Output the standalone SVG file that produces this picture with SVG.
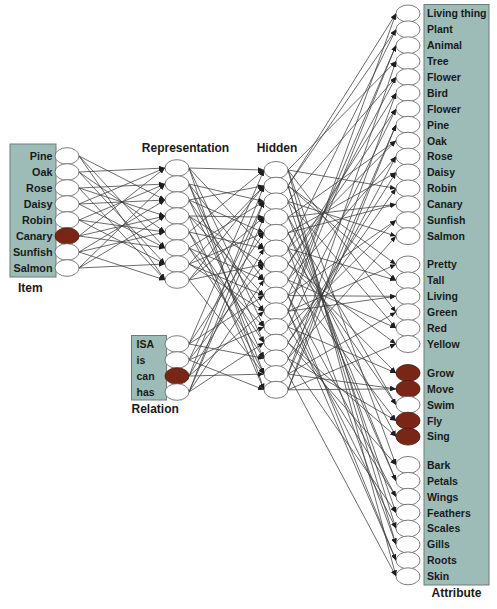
<svg xmlns="http://www.w3.org/2000/svg" width="497" height="609" viewBox="0 0 497 609">
<style>
.box{fill:#9dbcb8;stroke:#6e7c7a;stroke-width:1}
.n{fill:#fff;stroke:#5a5a5a;stroke-width:0.8}
.on{fill:#7a2616;stroke:#4a1a10;stroke-width:0.8}
.lb{font-family:"Liberation Sans",Arial,sans-serif;font-weight:bold;font-size:10.5px;fill:#1a1a1a}
.il{font-family:"Liberation Sans",Arial,sans-serif;font-weight:bold;font-size:10.8px;fill:#1a1a1a;text-anchor:end}
.tt{font-family:"Liberation Sans",Arial,sans-serif;font-weight:bold;font-size:12px;fill:#1a1a1a}
#connectors line{stroke:#3a3a3a;stroke-width:0.75;marker-end:url(#ah)}
</style>
<defs>
<marker id="ah" markerUnits="userSpaceOnUse" markerWidth="6" markerHeight="5" refX="6" refY="2.5" orient="auto">
<path d="M0,0 L6,2.5 L0,5 z" fill="#1e1e1e"/>
</marker>
</defs>
<rect width="497" height="609" fill="#fff"/>
<g id="panels">
<rect class="box" x="10" y="144" width="46" height="133"/>
<rect class="box" x="131.5" y="335.5" width="35" height="64.5"/>
<rect class="box" x="424" y="4.5" width="65" height="580.5"/>
</g>
<g id="titles">
<text class="tt" x="18" y="292">Item</text>
<text class="tt" x="185.5" y="152" text-anchor="middle">Representation</text>
<text class="tt" x="277" y="152" text-anchor="middle">Hidden</text>
<text class="tt" x="131.5" y="413">Relation</text>
<text class="tt" x="456.5" y="597" text-anchor="middle">Attribute</text>
</g>
<g id="connectors">
<line x1="79" y1="156" x2="165" y2="200"/><line x1="79" y1="156" x2="165" y2="248"/><line x1="79" y1="156" x2="165" y2="280"/>
<line x1="79" y1="172" x2="165" y2="168"/><line x1="79" y1="172" x2="165" y2="232"/><line x1="79" y1="172" x2="165" y2="264"/>
<line x1="79" y1="188" x2="165" y2="184"/><line x1="79" y1="188" x2="165" y2="216"/><line x1="79" y1="188" x2="165" y2="280"/>
<line x1="79" y1="204" x2="165" y2="168"/><line x1="79" y1="204" x2="165" y2="200"/><line x1="79" y1="204" x2="165" y2="248"/>
<line x1="79" y1="220" x2="165" y2="184"/><line x1="79" y1="220" x2="165" y2="232"/><line x1="79" y1="220" x2="165" y2="264"/>
<line x1="79" y1="236" x2="165" y2="168"/><line x1="79" y1="236" x2="165" y2="216"/><line x1="79" y1="236" x2="165" y2="248"/>
<line x1="79" y1="252" x2="165" y2="200"/><line x1="79" y1="252" x2="165" y2="232"/><line x1="79" y1="252" x2="165" y2="280"/>
<line x1="79" y1="268" x2="165" y2="184"/><line x1="79" y1="268" x2="165" y2="216"/><line x1="79" y1="268" x2="165" y2="264"/>

<line x1="189" y1="168" x2="264" y2="170"/><line x1="189" y1="168" x2="264" y2="248.5"/><line x1="189" y1="168" x2="264" y2="327"/><line x1="189" y1="168" x2="264" y2="389.8"/>
<line x1="189" y1="184" x2="264" y2="201.4"/><line x1="189" y1="184" x2="264" y2="279.9"/><line x1="189" y1="184" x2="264" y2="342.7"/><line x1="189" y1="184" x2="264" y2="374.1"/>
<line x1="189" y1="200" x2="264" y2="185.7"/><line x1="189" y1="200" x2="264" y2="232.8"/><line x1="189" y1="200" x2="264" y2="311.3"/><line x1="189" y1="200" x2="264" y2="358.4"/>
<line x1="189" y1="216" x2="264" y2="217.1"/><line x1="189" y1="216" x2="264" y2="264.2"/><line x1="189" y1="216" x2="264" y2="295.6"/><line x1="189" y1="216" x2="264" y2="389.8"/>
<line x1="189" y1="232" x2="264" y2="170"/><line x1="189" y1="232" x2="264" y2="248.5"/><line x1="189" y1="232" x2="264" y2="342.7"/><line x1="189" y1="232" x2="264" y2="374.1"/>
<line x1="189" y1="248" x2="264" y2="201.4"/><line x1="189" y1="248" x2="264" y2="279.9"/><line x1="189" y1="248" x2="264" y2="327"/><line x1="189" y1="248" x2="264" y2="358.4"/>
<line x1="189" y1="264" x2="264" y2="185.7"/><line x1="189" y1="264" x2="264" y2="232.8"/><line x1="189" y1="264" x2="264" y2="295.6"/><line x1="189" y1="264" x2="264" y2="311.3"/>
<line x1="189" y1="280" x2="264" y2="217.1"/><line x1="189" y1="280" x2="264" y2="264.2"/><line x1="189" y1="280" x2="264" y2="374.1"/><line x1="189" y1="280" x2="264" y2="185.7"/>

<line x1="189" y1="344" x2="264" y2="170"/><line x1="189" y1="344" x2="264" y2="232.8"/><line x1="189" y1="344" x2="264" y2="295.6"/><line x1="189" y1="344" x2="264" y2="358.4"/>
<line x1="189" y1="360" x2="264" y2="201.4"/><line x1="189" y1="360" x2="264" y2="264.2"/><line x1="189" y1="360" x2="264" y2="327"/><line x1="189" y1="360" x2="264" y2="389.8"/>
<line x1="189" y1="376" x2="264" y2="185.7"/><line x1="189" y1="376" x2="264" y2="248.5"/><line x1="189" y1="376" x2="264" y2="311.3"/><line x1="189" y1="376" x2="264" y2="374.1"/>
<line x1="189" y1="392" x2="264" y2="217.1"/><line x1="189" y1="392" x2="264" y2="279.9"/><line x1="189" y1="392" x2="264" y2="342.7"/><line x1="189" y1="392" x2="264" y2="201.4"/>

<line x1="288" y1="185.7" x2="396" y2="13.5"/><line x1="288" y1="311.3" x2="396" y2="13.5"/>
<line x1="288" y1="248.5" x2="396" y2="29.4"/><line x1="288" y1="185.7" x2="396" y2="29.4"/>
<line x1="288" y1="311.3" x2="396" y2="45.3"/><line x1="288" y1="295.6" x2="396" y2="45.3"/>
<line x1="288" y1="374.1" x2="396" y2="61.2"/><line x1="288" y1="170" x2="396" y2="61.2"/>
<line x1="288" y1="201.4" x2="396" y2="77.1"/><line x1="288" y1="279.9" x2="396" y2="77.1"/>
<line x1="288" y1="264.2" x2="396" y2="93"/><line x1="288" y1="389.8" x2="396" y2="93"/>
<line x1="288" y1="327" x2="396" y2="108.9"/><line x1="288" y1="264.2" x2="396" y2="108.9"/>
<line x1="288" y1="389.8" x2="396" y2="124.8"/><line x1="288" y1="374.1" x2="396" y2="124.8"/>
<line x1="288" y1="217.1" x2="396" y2="140.7"/><line x1="288" y1="248.5" x2="396" y2="140.7"/>
<line x1="288" y1="279.9" x2="396" y2="156.6"/><line x1="288" y1="358.4" x2="396" y2="156.6"/>
<line x1="288" y1="342.7" x2="396" y2="172.5"/><line x1="288" y1="232.8" x2="396" y2="172.5"/>
<line x1="288" y1="170" x2="396" y2="188.4"/><line x1="288" y1="342.7" x2="396" y2="188.4"/>
<line x1="288" y1="232.8" x2="396" y2="204.3"/><line x1="288" y1="217.1" x2="396" y2="204.3"/>
<line x1="288" y1="295.6" x2="396" y2="220.2"/><line x1="288" y1="327" x2="396" y2="220.2"/>
<line x1="288" y1="358.4" x2="396" y2="236.1"/><line x1="288" y1="201.4" x2="396" y2="236.1"/>
<line x1="288" y1="185.7" x2="396" y2="264.5"/><line x1="288" y1="311.3" x2="396" y2="264.5"/>
<line x1="288" y1="248.5" x2="396" y2="280.4"/><line x1="288" y1="185.7" x2="396" y2="280.4"/>
<line x1="288" y1="311.3" x2="396" y2="296.3"/><line x1="288" y1="295.6" x2="396" y2="296.3"/>
<line x1="288" y1="374.1" x2="396" y2="312.2"/><line x1="288" y1="170" x2="396" y2="312.2"/>
<line x1="288" y1="201.4" x2="396" y2="328.1"/><line x1="288" y1="279.9" x2="396" y2="328.1"/>
<line x1="288" y1="264.2" x2="396" y2="344"/><line x1="288" y1="389.8" x2="396" y2="344"/>
<line x1="288" y1="327" x2="396" y2="373"/><line x1="288" y1="264.2" x2="396" y2="373"/>
<line x1="288" y1="389.8" x2="396" y2="388.9"/><line x1="288" y1="374.1" x2="396" y2="388.9"/>
<line x1="288" y1="217.1" x2="396" y2="404.8"/><line x1="288" y1="248.5" x2="396" y2="404.8"/>
<line x1="288" y1="279.9" x2="396" y2="420.7"/><line x1="288" y1="358.4" x2="396" y2="420.7"/>
<line x1="288" y1="342.7" x2="396" y2="436.6"/><line x1="288" y1="232.8" x2="396" y2="436.6"/>
<line x1="288" y1="170" x2="396" y2="465"/><line x1="288" y1="342.7" x2="396" y2="465"/>
<line x1="288" y1="232.8" x2="396" y2="480.9"/><line x1="288" y1="217.1" x2="396" y2="480.9"/>
<line x1="288" y1="295.6" x2="396" y2="496.8"/><line x1="288" y1="327" x2="396" y2="496.8"/>
<line x1="288" y1="358.4" x2="396" y2="512.7"/><line x1="288" y1="201.4" x2="396" y2="512.7"/>
<line x1="288" y1="185.7" x2="396" y2="528.6"/><line x1="288" y1="311.3" x2="396" y2="528.6"/>
<line x1="288" y1="248.5" x2="396" y2="544.5"/><line x1="288" y1="185.7" x2="396" y2="544.5"/>
<line x1="288" y1="311.3" x2="396" y2="560.4"/><line x1="288" y1="295.6" x2="396" y2="560.4"/>
<line x1="288" y1="374.1" x2="396" y2="576.3"/><line x1="288" y1="170" x2="396" y2="576.3"/>
</g>
<g id="item-nodes">
<g id="item-pine"><ellipse class="n" cx="67" cy="156" rx="12" ry="8.3"/><text class="il" x="52.5" y="160">Pine</text></g>
<g id="item-oak"><ellipse class="n" cx="67" cy="172" rx="12" ry="8.3"/><text class="il" x="52.5" y="176">Oak</text></g>
<g id="item-rose"><ellipse class="n" cx="67" cy="188" rx="12" ry="8.3"/><text class="il" x="52.5" y="192">Rose</text></g>
<g id="item-daisy"><ellipse class="n" cx="67" cy="204" rx="12" ry="8.3"/><text class="il" x="52.5" y="208">Daisy</text></g>
<g id="item-robin"><ellipse class="n" cx="67" cy="220" rx="12" ry="8.3"/><text class="il" x="52.5" y="224">Robin</text></g>
<g id="item-canary"><ellipse class="on" cx="67" cy="236" rx="12" ry="8.3"/><text class="il" x="52.5" y="240">Canary</text></g>
<g id="item-sunfish"><ellipse class="n" cx="67" cy="252" rx="12" ry="8.3"/><text class="il" x="52.5" y="256">Sunfish</text></g>
<g id="item-salmon"><ellipse class="n" cx="67" cy="268" rx="12" ry="8.3"/><text class="il" x="52.5" y="272">Salmon</text></g>
</g>
<g id="representation-nodes">
<g id="rep-0"><ellipse class="n" cx="177" cy="168" rx="12" ry="8.3"/></g>
<g id="rep-1"><ellipse class="n" cx="177" cy="184" rx="12" ry="8.3"/></g>
<g id="rep-2"><ellipse class="n" cx="177" cy="200" rx="12" ry="8.3"/></g>
<g id="rep-3"><ellipse class="n" cx="177" cy="216" rx="12" ry="8.3"/></g>
<g id="rep-4"><ellipse class="n" cx="177" cy="232" rx="12" ry="8.3"/></g>
<g id="rep-5"><ellipse class="n" cx="177" cy="248" rx="12" ry="8.3"/></g>
<g id="rep-6"><ellipse class="n" cx="177" cy="264" rx="12" ry="8.3"/></g>
<g id="rep-7"><ellipse class="n" cx="177" cy="280" rx="12" ry="8.3"/></g>
</g>
<g id="relation-nodes">
<g id="rel-isa"><ellipse class="n" cx="177" cy="344" rx="12" ry="8.3"/><text class="lb" x="136.5" y="348">ISA</text></g>
<g id="rel-is"><ellipse class="n" cx="177" cy="360" rx="12" ry="8.3"/><text class="lb" x="136.5" y="364">is</text></g>
<g id="rel-can"><ellipse class="on" cx="177" cy="376" rx="12" ry="8.3"/><text class="lb" x="136.5" y="380">can</text></g>
<g id="rel-has"><ellipse class="n" cx="177" cy="392" rx="12" ry="8.3"/><text class="lb" x="136.5" y="396">has</text></g>
</g>
<g id="hidden-nodes">
<g id="hid-0"><ellipse class="n" cx="276" cy="170" rx="12" ry="8.5"/></g>
<g id="hid-1"><ellipse class="n" cx="276" cy="185.7" rx="12" ry="8.5"/></g>
<g id="hid-2"><ellipse class="n" cx="276" cy="201.4" rx="12" ry="8.5"/></g>
<g id="hid-3"><ellipse class="n" cx="276" cy="217.1" rx="12" ry="8.5"/></g>
<g id="hid-4"><ellipse class="n" cx="276" cy="232.8" rx="12" ry="8.5"/></g>
<g id="hid-5"><ellipse class="n" cx="276" cy="248.5" rx="12" ry="8.5"/></g>
<g id="hid-6"><ellipse class="n" cx="276" cy="264.2" rx="12" ry="8.5"/></g>
<g id="hid-7"><ellipse class="n" cx="276" cy="279.9" rx="12" ry="8.5"/></g>
<g id="hid-8"><ellipse class="n" cx="276" cy="295.6" rx="12" ry="8.5"/></g>
<g id="hid-9"><ellipse class="n" cx="276" cy="311.3" rx="12" ry="8.5"/></g>
<g id="hid-10"><ellipse class="n" cx="276" cy="327" rx="12" ry="8.5"/></g>
<g id="hid-11"><ellipse class="n" cx="276" cy="342.7" rx="12" ry="8.5"/></g>
<g id="hid-12"><ellipse class="n" cx="276" cy="358.4" rx="12" ry="8.5"/></g>
<g id="hid-13"><ellipse class="n" cx="276" cy="374.1" rx="12" ry="8.5"/></g>
<g id="hid-14"><ellipse class="n" cx="276" cy="389.8" rx="12" ry="8.5"/></g>
</g>
<g id="attribute-nodes">
<g id="att-living-thing"><ellipse class="n" cx="408" cy="13.5" rx="12" ry="8.5"/><text class="lb" x="427" y="17.3">Living thing</text></g>
<g id="att-plant"><ellipse class="n" cx="408" cy="29.4" rx="12" ry="8.5"/><text class="lb" x="427" y="33.2">Plant</text></g>
<g id="att-animal"><ellipse class="n" cx="408" cy="45.3" rx="12" ry="8.5"/><text class="lb" x="427" y="49.1">Animal</text></g>
<g id="att-tree"><ellipse class="n" cx="408" cy="61.2" rx="12" ry="8.5"/><text class="lb" x="427" y="65">Tree</text></g>
<g id="att-flower1"><ellipse class="n" cx="408" cy="77.1" rx="12" ry="8.5"/><text class="lb" x="427" y="80.9">Flower</text></g>
<g id="att-bird"><ellipse class="n" cx="408" cy="93" rx="12" ry="8.5"/><text class="lb" x="427" y="96.8">Bird</text></g>
<g id="att-flower2"><ellipse class="n" cx="408" cy="108.9" rx="12" ry="8.5"/><text class="lb" x="427" y="112.7">Flower</text></g>
<g id="att-pine"><ellipse class="n" cx="408" cy="124.8" rx="12" ry="8.5"/><text class="lb" x="427" y="128.6">Pine</text></g>
<g id="att-oak"><ellipse class="n" cx="408" cy="140.7" rx="12" ry="8.5"/><text class="lb" x="427" y="144.5">Oak</text></g>
<g id="att-rose"><ellipse class="n" cx="408" cy="156.6" rx="12" ry="8.5"/><text class="lb" x="427" y="160.4">Rose</text></g>
<g id="att-daisy"><ellipse class="n" cx="408" cy="172.5" rx="12" ry="8.5"/><text class="lb" x="427" y="176.3">Daisy</text></g>
<g id="att-robin"><ellipse class="n" cx="408" cy="188.4" rx="12" ry="8.5"/><text class="lb" x="427" y="192.2">Robin</text></g>
<g id="att-canary"><ellipse class="n" cx="408" cy="204.3" rx="12" ry="8.5"/><text class="lb" x="427" y="208.1">Canary</text></g>
<g id="att-sunfish"><ellipse class="n" cx="408" cy="220.2" rx="12" ry="8.5"/><text class="lb" x="427" y="224">Sunfish</text></g>
<g id="att-salmon"><ellipse class="n" cx="408" cy="236.1" rx="12" ry="8.5"/><text class="lb" x="427" y="239.9">Salmon</text></g>
<g id="att-pretty"><ellipse class="n" cx="408" cy="264.5" rx="12" ry="8.5"/><text class="lb" x="427" y="268.3">Pretty</text></g>
<g id="att-tall"><ellipse class="n" cx="408" cy="280.4" rx="12" ry="8.5"/><text class="lb" x="427" y="284.2">Tall</text></g>
<g id="att-living"><ellipse class="n" cx="408" cy="296.3" rx="12" ry="8.5"/><text class="lb" x="427" y="300.1">Living</text></g>
<g id="att-green"><ellipse class="n" cx="408" cy="312.2" rx="12" ry="8.5"/><text class="lb" x="427" y="316">Green</text></g>
<g id="att-red"><ellipse class="n" cx="408" cy="328.1" rx="12" ry="8.5"/><text class="lb" x="427" y="331.9">Red</text></g>
<g id="att-yellow"><ellipse class="n" cx="408" cy="344" rx="12" ry="8.5"/><text class="lb" x="427" y="347.8">Yellow</text></g>
<g id="att-grow"><ellipse class="on" cx="408" cy="373" rx="12" ry="8.5"/><text class="lb" x="427" y="376.8">Grow</text></g>
<g id="att-move"><ellipse class="on" cx="408" cy="388.9" rx="12" ry="8.5"/><text class="lb" x="427" y="392.7">Move</text></g>
<g id="att-swim"><ellipse class="n" cx="408" cy="404.8" rx="12" ry="8.5"/><text class="lb" x="427" y="408.6">Swim</text></g>
<g id="att-fly"><ellipse class="on" cx="408" cy="420.7" rx="12" ry="8.5"/><text class="lb" x="427" y="424.5">Fly</text></g>
<g id="att-sing"><ellipse class="on" cx="408" cy="436.6" rx="12" ry="8.5"/><text class="lb" x="427" y="440.4">Sing</text></g>
<g id="att-bark"><ellipse class="n" cx="408" cy="465" rx="12" ry="8.5"/><text class="lb" x="427" y="468.8">Bark</text></g>
<g id="att-petals"><ellipse class="n" cx="408" cy="480.9" rx="12" ry="8.5"/><text class="lb" x="427" y="484.7">Petals</text></g>
<g id="att-wings"><ellipse class="n" cx="408" cy="496.8" rx="12" ry="8.5"/><text class="lb" x="427" y="500.6">Wings</text></g>
<g id="att-feathers"><ellipse class="n" cx="408" cy="512.7" rx="12" ry="8.5"/><text class="lb" x="427" y="516.5">Feathers</text></g>
<g id="att-scales"><ellipse class="n" cx="408" cy="528.6" rx="12" ry="8.5"/><text class="lb" x="427" y="532.4">Scales</text></g>
<g id="att-gills"><ellipse class="n" cx="408" cy="544.5" rx="12" ry="8.5"/><text class="lb" x="427" y="548.3">Gills</text></g>
<g id="att-roots"><ellipse class="n" cx="408" cy="560.4" rx="12" ry="8.5"/><text class="lb" x="427" y="564.2">Roots</text></g>
<g id="att-skin"><ellipse class="n" cx="408" cy="576.3" rx="12" ry="8.5"/><text class="lb" x="427" y="580.1">Skin</text></g>
</g>
</svg>
